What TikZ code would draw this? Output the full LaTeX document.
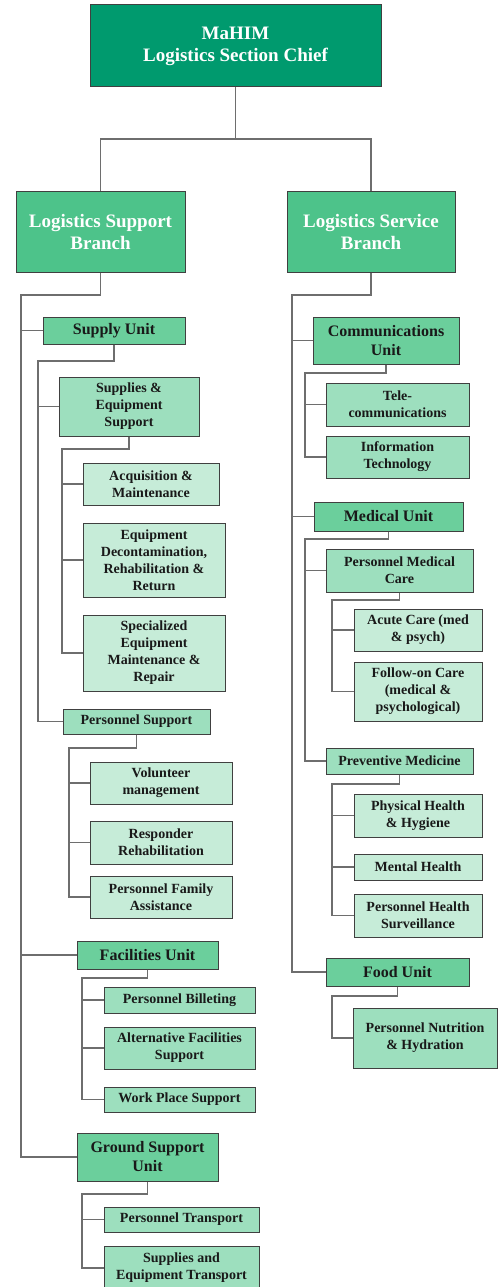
\documentclass[tikz,border=0pt]{standalone}
\usepackage{fontspec}
\setmainfont{Liberation Serif}
\definecolor{chiefgreen}{HTML}{009A6E}
\definecolor{branchgreen}{HTML}{4DC38A}
\definecolor{unitgreen}{HTML}{6BCF9C}
\definecolor{subgreen}{HTML}{9DDFBE}
\definecolor{taskgreen}{HTML}{C6ECD8}
\definecolor{boxline}{HTML}{404040}
\definecolor{connline}{HTML}{6E6E6E}
\begin{document}
\begin{tikzpicture}[x=1pt,y=-1pt,
    box/.style={draw=boxline, line width=1pt, rectangle, align=center, inner sep=1pt, text=black!90},
    chiefbox/.style={box, fill=chiefgreen, text=white, font=\fontsize{19}{22}\selectfont\bfseries},
    branchbox/.style={box, fill=branchgreen, text=white, font=\fontsize{19}{22}\selectfont\bfseries},
    unitbox/.style={box, fill=unitgreen, font=\fontsize{16}{19}\selectfont\bfseries},
    subbox/.style={box, fill=subgreen, font=\fontsize{14}{17}\selectfont\bfseries},
    taskbox/.style={box, fill=taskgreen, font=\fontsize{14}{17}\selectfont\bfseries},
    conn/.style={draw=connline, line width=1.2pt}]
    \useasboundingbox (0,0) rectangle (499,1287);

    % Top and branches
    \node[chiefbox, minimum width=291pt, minimum height=82pt] (chief) at (235.5,46) {MaHIM\\Logistics Section Chief};
    \node[branchbox, minimum width=169pt, minimum height=81pt] (lsb) at (100.5,231.5) {Logistics Support\\Branch};
    \node[branchbox, minimum width=168pt, minimum height=81pt] (lsv) at (371,231.5) {Logistics Service\\Branch};

    % Support branch
    \node[unitbox, minimum width=142pt, minimum height=27pt] (supply) at (114,330.5) {Supply Unit};
    \node[subbox, minimum width=140pt, minimum height=59pt] (sesp) at (129,406.5) {Supplies \&\\Equipment\\Support};
    \node[taskbox, minimum width=136pt, minimum height=42pt] (acq) at (151,484) {Acquisition \&\\Maintenance};
    \node[taskbox, minimum width=142pt, minimum height=74pt] (decon) at (154,560) {Equipment\\Decontamination,\\Rehabilitation \&\\Return};
    \node[taskbox, minimum width=142pt, minimum height=76pt] (spec) at (154,653) {Specialized\\Equipment\\Maintenance \&\\Repair};
    \node[subbox, minimum width=147pt, minimum height=25pt] (psup) at (136.5,721.5) {Personnel Support};
    \node[taskbox, minimum width=142pt, minimum height=42pt] (vol) at (161,783) {Volunteer\\management};
    \node[taskbox, minimum width=142pt, minimum height=43pt] (resp) at (161,842.5) {Responder\\Rehabilitation};
    \node[taskbox, minimum width=142pt, minimum height=42pt] (fam) at (161,897) {Personnel Family\\Assistance};
    \node[unitbox, minimum width=141pt, minimum height=28pt] (fac) at (147.5,955) {Facilities Unit};
    \node[subbox, minimum width=151pt, minimum height=26pt] (bill) at (179.5,1000) {Personnel Billeting};
    \node[subbox, minimum width=151pt, minimum height=42pt] (alt) at (179.5,1048) {Alternative Facilities\\Support};
    \node[subbox, minimum width=151pt, minimum height=25pt] (work) at (179.5,1099.5) {Work Place Support};
    \node[unitbox, minimum width=141pt, minimum height=48pt] (gsu) at (147.5,1157) {Ground Support\\Unit};
    \node[subbox, minimum width=155pt, minimum height=25pt] (ptrans) at (181.5,1219.5) {Personnel Transport};
    \node[subbox, minimum width=155pt, minimum height=44pt] (setrans) at (181.5,1268) {Supplies and\\Equipment Transport};

    % Service branch
    \node[unitbox, minimum width=146pt, minimum height=47pt] (comm) at (386,340.5) {Communications\\Unit};
    \node[subbox, minimum width=143pt, minimum height=43pt] (tele) at (397.5,404.5) {Tele-\\communications};
    \node[subbox, minimum width=143pt, minimum height=42pt] (info) at (397.5,457) {Information\\Technology};
    \node[unitbox, minimum width=149pt, minimum height=29pt] (med) at (388.5,516.5) {Medical Unit};
    \node[subbox, minimum width=147pt, minimum height=43pt] (pmc) at (399.5,570.5) {Personnel Medical\\Care};
    \node[taskbox, minimum width=128pt, minimum height=42pt] (acute) at (418,630) {Acute Care (med\\\& psych)};
    \node[taskbox, minimum width=128pt, minimum height=59pt] (follow) at (418,691.5) {Follow-on Care\\(medical \&\\psychological)};
    \node[subbox, minimum width=147pt, minimum height=26pt] (prev) at (399.5,761) {Preventive Medicine};
    \node[taskbox, minimum width=128pt, minimum height=43pt] (phys) at (418,815.5) {Physical Health\\\& Hygiene};
    \node[taskbox, minimum width=128pt, minimum height=26pt] (mental) at (418,867) {Mental Health};
    \node[taskbox, minimum width=128pt, minimum height=43pt] (surv) at (418,915.5) {Personnel Health\\Surveillance};
    \node[unitbox, minimum width=143pt, minimum height=28pt] (food) at (397.5,972) {Food Unit};
    \node[subbox, minimum width=144pt, minimum height=60pt] (nutr) at (425,1038) {Personnel Nutrition\\\& Hydration};

    % Bend points
    \coordinate (b0) at (235.5,139);
    \coordinate (tl) at (21,295);   \coordinate (ts) at (38,361);
    \coordinate (te) at (62,449);   \coordinate (tp) at (69,748);
    \coordinate (tf) at (82,978);   \coordinate (tg) at (82,1194);
    \coordinate (tr) at (292,295);  \coordinate (tc) at (305,373);
    \coordinate (tm) at (305,539);  \coordinate (tk) at (332,600);
    \coordinate (tv) at (332,784);  \coordinate (tn) at (332,996);

    % Connectors
    \foreach \c in {lsb,lsv} \draw[conn] (chief.south) |- (b0) -| (\c.north);
    \foreach \c in {supply,fac,gsu} \draw[conn] (lsb.south) |- (tl) |- (\c.west);
    \foreach \c in {sesp,psup} \draw[conn] (supply.south) |- (ts) |- (\c.west);
    \foreach \c in {acq,decon,spec} \draw[conn] (sesp.south) |- (te) |- (\c.west);
    \foreach \c in {vol,resp,fam} \draw[conn] (psup.south) |- (tp) |- (\c.west);
    \foreach \c in {bill,alt,work} \draw[conn] (fac.south) |- (tf) |- (\c.west);
    \foreach \c in {ptrans,setrans} \draw[conn] (gsu.south) |- (tg) |- (\c.west);
    \foreach \c in {comm,med,food} \draw[conn] (lsv.south) |- (tr) |- (\c.west);
    \foreach \c in {tele,info} \draw[conn] (comm.south) |- (tc) |- (\c.west);
    \foreach \c in {pmc,prev} \draw[conn] (med.south) |- (tm) |- (\c.west);
    \foreach \c in {acute,follow} \draw[conn] (pmc.south) |- (tk) |- (\c.west);
    \foreach \c in {phys,mental,surv} \draw[conn] (prev.south) |- (tv) |- (\c.west);
    \draw[conn] (food.south) |- (tn) |- (nutr.west);
\end{tikzpicture}
\end{document}
